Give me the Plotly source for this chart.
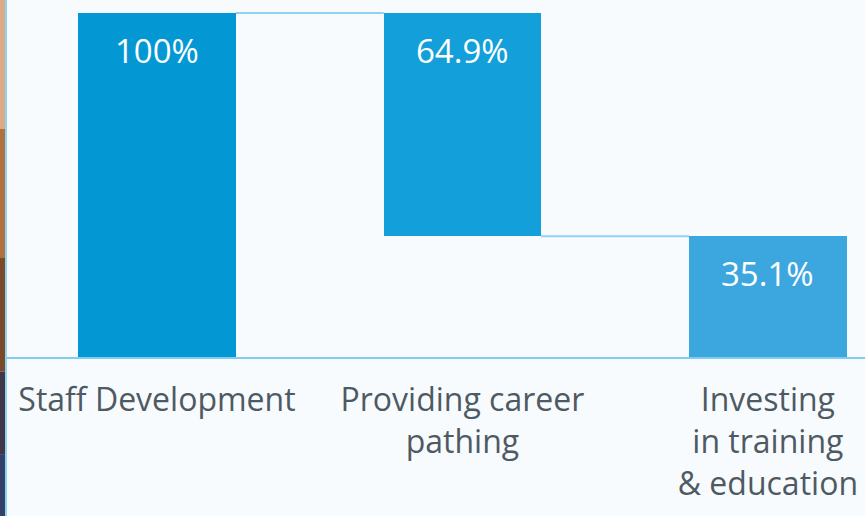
import plotly.graph_objects as go

categories = ["Staff Development", "Providing career<br>pathing", "Investing<br>in training<br>& education"]
values = [100, 64.9, 35.1]
bases = [0, 35.1, 0]
labels = ["100%", "64.9%", "35.1%"]
colors = ["#0398D4", "#139FD9", "#3CA7DE"]

xpos = list(range(len(categories)))
bar_w = 0.515

fig = go.Figure()
fig.add_trace(go.Bar(
    x=xpos, y=values, base=bases, width=bar_w,
    marker=dict(color=colors, line=dict(width=0)),
    hoverinfo="skip",
))

# connectors between bars
shapes = []
for i in range(len(values) - 1):
    top_i = bases[i] + values[i]
    bot_i = bases[i]
    top_n = bases[i + 1] + values[i + 1]
    level = top_i if abs(top_i - top_n) < 1e-9 else bot_i if abs(bot_i - top_n) < 1e-9 else top_n
    shapes.append(dict(type="line", xref="x", yref="y",
                       x0=xpos[i] + bar_w / 2, x1=xpos[i + 1] - bar_w / 2,
                       y0=level, y1=level, line=dict(color="#8FD3F3", width=2), layer="below"))

# photo strip on the left edge (decoration)
strip = [("#DDAA84", 0.0, 0.25), ("#B0703F", 0.25, 0.5), ("#7A4A2A", 0.5, 0.72), ("#403748", 0.72, 0.88), ("#33406A", 0.88, 1.0)]
for c, a, b in strip:
    shapes.append(dict(type="rect", xref="paper", yref="paper", x0=-7 / 858, x1=-1 / 858,
                       y0=1 - b * 516 / 357, y1=1 - a * 516 / 357,
                       fillcolor=c, line=dict(width=0), layer="above"))
shapes.append(dict(type="line", xref="paper", yref="paper", x0=-1 / 858, x1=-1 / 858,
                   y0=1 - 516 / 357, y1=1, line=dict(color="#8FD3F3", width=2)))

annotations = []
for i, lab in enumerate(labels):
    annotations.append(dict(x=xpos[i], y=bases[i] + values[i], xref="x", yref="y", text=lab,
                            showarrow=False, yanchor="middle", yshift=-37,
                            font=dict(color="white", size=33, family="Open Sans")))

fig.update_layout(
    width=865, height=516,
    margin=dict(l=7, r=0, t=0, b=159),
    paper_bgcolor="#F8FBFE", plot_bgcolor="#F8FBFE",
    showlegend=False, bargap=0,
    shapes=shapes, annotations=annotations,
    font=dict(family="Open Sans"),
)
fig.update_xaxes(range=[-0.491, 2.318], tickmode="array", tickvals=xpos, ticktext=categories,
                 showgrid=False, zeroline=False, showline=True, linecolor="#7FCDF0", linewidth=2,
                 ticks="", tickfont=dict(size=32, color="#4E5A63", family="Open Sans"), tickangle=0,
                 ticklabelstandoff=14)
fig.update_yaxes(range=[0, 103.78], showgrid=False, zeroline=False, showticklabels=False, showline=False)

fig.write_html("out.html")
